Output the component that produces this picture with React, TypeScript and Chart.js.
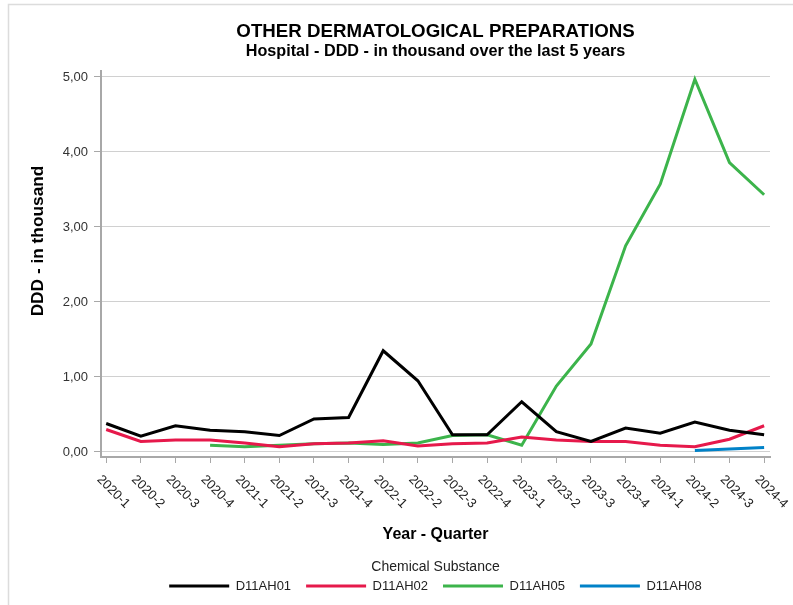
import React, { useEffect, useRef } from "react";
import { Chart, registerables } from "chart.js";

Chart.register(...registerables);

const FONT = "'Liberation Sans', Arial, Helvetica, sans-serif";

const quarters = [
  "2020-1", "2020-2", "2020-3", "2020-4",
  "2021-1", "2021-2", "2021-3", "2021-4",
  "2022-1", "2022-2", "2022-3", "2022-4",
  "2023-1", "2023-2", "2023-3", "2023-4",
  "2024-1", "2024-2", "2024-3", "2024-4",
];

const d11ah01 = [0.38, 0.21, 0.35, 0.29, 0.27, 0.22, 0.44, 0.46, 1.35, 0.95, 0.23, 0.23, 0.67, 0.27, 0.14, 0.32, 0.25, 0.40, 0.29, 0.23];
const d11ah02 = [0.30, 0.14, 0.16, 0.16, 0.12, 0.07, 0.11, 0.12, 0.15, 0.08, 0.11, 0.12, 0.20, 0.16, 0.14, 0.14, 0.09, 0.07, 0.17, 0.35];
const d11ah05 = [null, null, null, 0.09, 0.07, 0.09, 0.11, 0.12, 0.10, 0.12, 0.22, 0.23, 0.09, 0.88, 1.44, 2.75, 3.57, 4.97, 3.86, 3.43];
const d11ah08 = [null, null, null, null, null, null, null, null, null, null, null, null, null, null, null, null, null, 0.02, 0.04, 0.06];

const seriesNames = ["D11AH01", "D11AH02", "D11AH05", "D11AH08"];
const seriesColors = ["#000000", "#e6194b", "#3cb44b", "#0082c8"];
const yTicks = [0, 1, 2, 3, 4, 5];

const titleText = "OTHER DERMATOLOGICAL PREPARATIONS";
const subtitleText = "Hospital - DDD - in thousand over the last 5 years";
const yTitleText = "DDD - in thousand";
const xTitleText = "Year - Quarter";
const legendTitleText = "Chemical Substance";

const decorPlugin = {
  id: "decor",
  afterDraw(chart: any) {
    const ctx = chart.ctx;
    const area = chart.chartArea;
    const cx = (area.left + area.right) / 2;
    ctx.save();
    // frame
    ctx.strokeStyle = "#dcdcdc";
    ctx.lineWidth = 1.5;
    ctx.beginPath();
    ctx.moveTo(8.5, 606);
    ctx.lineTo(8.5, 4.5);
    ctx.lineTo(800, 4.5);
    ctx.stroke();

    // titles
    ctx.fillStyle = "#000";
    ctx.textAlign = "center";
    ctx.textBaseline = "alphabetic";
    ctx.font = `bold 18.7px ${FONT}`;
    ctx.fillText(titleText, cx, 36.5);
    ctx.font = `bold 16.2px ${FONT}`;
    ctx.fillText(subtitleText, cx, 55.5);

    // y title
    ctx.save();
    ctx.translate(43.3, 241);
    ctx.rotate(-Math.PI / 2);
    ctx.font = `bold 17.3px ${FONT}`;
    ctx.fillText(yTitleText, 0, 0);
    ctx.restore();

    // x tick labels rotated clockwise
    const xs = chart.scales.x;
    ctx.font = `13px ${FONT}`;
    ctx.fillStyle = "#222";
    ctx.textAlign = "left";
    ctx.textBaseline = "alphabetic";
    quarters.forEach((q, i) => {
      const px = xs.getPixelForValue(i);
      ctx.save();
      ctx.translate(px - 9.7, 480);
      ctx.rotate(Math.PI / 4);
      ctx.fillText(q, 0, 0);
      ctx.restore();
    });
    ctx.restore();
  },
};

export default function App() {
  const ref = useRef<HTMLCanvasElement>(null);

  useEffect(() => {
    document.body.style.margin = "0";
    document.body.style.overflow = "hidden";
    if (!ref.current) return;
    Chart.defaults.font.family = FONT;
    const allSeries = [d11ah01, d11ah02, d11ah05, d11ah08];
    const chart = new Chart(ref.current, {
      type: "line",
      data: {
        datasets: allSeries.map((vals, k) => ({
          label: seriesNames[k],
          data: vals.map((v, i) => ({ x: i, y: v })),
          borderColor: seriesColors[k],
          backgroundColor: seriesColors[k],
          borderWidth: 3,
          pointRadius: 0,
          pointHoverRadius: 0,
          tension: 0,
          fill: false,
          spanGaps: false,
        })),
      },
      options: {
        animation: false,
        responsive: false,
        layout: { padding: { top: 71, left: 0, right: 23, bottom: 2.5 } },
        plugins: {
          tooltip: { enabled: false },
          title: { display: false },
          legend: {
            display: true,
            position: "bottom",
            fullSize: false,
            labels: {
              boxWidth: 60,
              boxHeight: 3,
              padding: 15,
              color: "#222",
              font: { size: 13, family: FONT },
              generateLabels: (ch: any) =>
                ch.data.datasets.map((ds: any, i: number) => ({
                  text: ds.label,
                  fillStyle: ds.borderColor,
                  strokeStyle: ds.borderColor,
                  lineWidth: 0,
                  hidden: false,
                  datasetIndex: i,
                  fontColor: "#222",
                })),
            },
            title: {
              display: true,
              text: legendTitleText,
              color: "#222",
              font: { size: 14, family: FONT },
              padding: { top: 0, bottom: -12.7 },
            },
          },
        },
        scales: {
          x: {
            type: "linear",
            min: -0.15,
            max: 19.17,
            afterBuildTicks: (s: any) => {
              s.ticks = quarters.map((_, i) => ({ value: i }));
            },
            afterFit: (s: any) => {
              s.height = 103.4;
            },
            ticks: { display: false },
            grid: {
              display: true,
              drawOnChartArea: false,
              drawTicks: true,
              tickLength: 6,
              tickColor: "#a8a8a8",
              tickWidth: 1,
            },
            border: { display: true, color: "#a8a8a8", width: 2 },
            title: {
              display: true,
              text: xTitleText,
              color: "#000",
              font: { size: 16, weight: "bold", family: FONT },
              padding: { top: 0, bottom: 15.8 },
            },
          },
          y: {
            type: "linear",
            min: -0.0667,
            max: 5.08,
            afterBuildTicks: (s: any) => {
              s.ticks = yTicks.map((v) => ({ value: v }));
            },
            afterFit: (s: any) => {
              s.width = 101;
            },
            ticks: {
              color: "#333",
              padding: 6,
              font: { size: 13, family: FONT },
              callback: (v: any) => Number(v).toFixed(2).replace(".", ","),
            },
            grid: {
              color: "#d0d0d0",
              lineWidth: 1,
              drawTicks: true,
              tickLength: 7,
              tickColor: "#a8a8a8",
            },
            border: { display: true, color: "#a8a8a8", width: 2 },
          },
        },
      },
      plugins: [decorPlugin],
    } as any);
    return () => chart.destroy();
  }, []);

  return (
    <canvas
      ref={ref}
      width={793}
      height={605}
      style={{ display: "block", width: 793, height: 605 }}
    />
  );
}
